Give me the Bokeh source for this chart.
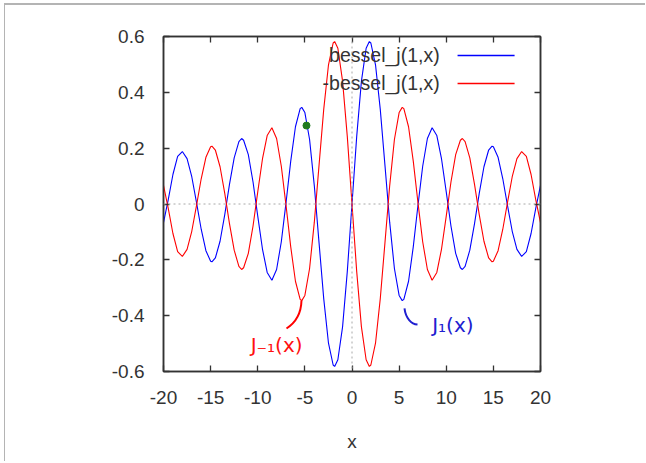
from bokeh.plotting import figure
from bokeh.models import FixedTicker, LinearAxis, Span
from bokeh.core.properties import value
from bokeh.embed import file_html
from bokeh.resources import INLINE

# ---- data ----
x_vals = [-20, -19.5, -19, -18.5, -18, -17.5, -17, -16.5, -16, -15.5, -15, -14.86,
          -14.5, -14, -13.5, -13, -12.5, -12, -11.71, -11.5, -11, -10.5, -10, -9.5,
          -9, -8.5, -8, -7.5, -7, -6.5, -6, -5.5, -5.33, -5, -4.5, -4, -3.5, -3,
          -2.5, -2, -1.84, -1.5, -1, -0.5,
          0, 0.5, 1, 1.5, 1.84, 2, 2.5, 3, 3.5, 4, 4.5, 5, 5.33, 5.5, 6, 6.5, 7,
          7.5, 8, 8.5, 9, 9.5, 10, 10.5, 11, 11.5, 11.71, 12, 12.5, 13, 13.5, 14,
          14.5, 14.86, 15, 15.5, 16, 16.5, 17, 17.5, 18, 18.5, 19, 19.5, 20]

bessel_j1 = [-0.0668, 0.0148, 0.1057, 0.1703, 0.1880, 0.1627, 0.0977, 0.0057, -0.0904,
             -0.1672, -0.2051, -0.2070, -0.1934, -0.1334, -0.0380, 0.0703, 0.1655,
             0.2234, 0.2346, 0.2284, 0.1768, 0.0789, -0.0435, -0.1613, -0.2453,
             -0.2731, -0.2346, -0.1352, 0.0047, 0.1538, 0.2767, 0.3414, 0.3461,
             0.3276, 0.2311, 0.0660, -0.1374, -0.3391, -0.4971, -0.5767, -0.5819,
             -0.5579, -0.4401, -0.2423,
             0.0, 0.2423, 0.4401, 0.5579, 0.5819, 0.5767, 0.4971, 0.3391, 0.1374,
             -0.0660, -0.2311, -0.3276, -0.3461, -0.3414, -0.2767, -0.1538, -0.0047,
             0.1352, 0.2346, 0.2731, 0.2453, 0.1613, 0.0435, -0.0789, -0.1768,
             -0.2284, -0.2346, -0.2234, -0.1655, -0.0703, 0.0380, 0.1334, 0.1934,
             0.2070, 0.2051, 0.1672, 0.0904, -0.0057, -0.0977, -0.1627, -0.1880,
             -0.1703, -0.1057, -0.0148, 0.0668]

neg_bessel_j1 = [0.0668, -0.0148, -0.1057, -0.1703, -0.1880, -0.1627, -0.0977, -0.0057,
                 0.0904, 0.1672, 0.2051, 0.2070, 0.1934, 0.1334, 0.0380, -0.0703,
                 -0.1655, -0.2234, -0.2346, -0.2284, -0.1768, -0.0789, 0.0435, 0.1613,
                 0.2453, 0.2731, 0.2346, 0.1352, -0.0047, -0.1538, -0.2767, -0.3414,
                 -0.3461, -0.3276, -0.2311, -0.0660, 0.1374, 0.3391, 0.4971, 0.5767,
                 0.5819, 0.5579, 0.4401, 0.2423,
                 0.0, -0.2423, -0.4401, -0.5579, -0.5819, -0.5767, -0.4971, -0.3391,
                 -0.1374, 0.0660, 0.2311, 0.3276, 0.3461, 0.3414, 0.2767, 0.1538,
                 0.0047, -0.1352, -0.2346, -0.2731, -0.2453, -0.1613, -0.0435, 0.0789,
                 0.1768, 0.2284, 0.2346, 0.2234, 0.1655, 0.0703, -0.0380, -0.1334,
                 -0.1934, -0.2070, -0.2051, -0.1672, -0.0904, 0.0057, 0.0977, 0.1627,
                 0.1880, 0.1703, 0.1057, 0.0148, -0.0668]

series_names = ["bessel_j(1,x)", "-bessel_j(1,x)"]
x_ticks = [-20, -15, -10, -5, 0, 5, 10, 15, 20]
x_tick_labels = ["-20", "-15", "-10", "-5", "0", "5", "10", "15", "20"]
y_ticks = [-0.6, -0.4, -0.2, 0, 0.2, 0.4, 0.6]
y_tick_labels = ["-0.6", "-0.4", "-0.2", "0", "0.2", "0.4", "0.6"]

FONT = "Liberation Sans"
TXT = "#333333"

p = figure(width=641, height=458, x_range=(-20, 20), y_range=(-0.6, 0.6),
           output_backend="svg", toolbar_location=None,
           min_border_left=158, min_border_right=106, min_border_top=31,
           min_border_bottom=92)
p.styles = {"margin-left": "4px", "margin-top": "3px",
            "border-left": "1px solid #b4b4b4", "border-top": "2px solid #b4b4b4"}
p.grid.visible = False
p.outline_line_color = TXT
p.outline_line_width = 1.5
p.background_fill_color = "white"
p.border_fill_color = "white"


def style_axis(ax, ticks, labels, show_labels):
    ax.ticker = FixedTicker(ticks=ticks)
    ax.major_label_overrides = {t: l for t, l in zip(ticks, labels)}
    ax.major_tick_in = 6
    ax.major_tick_out = 0
    ax.minor_tick_line_color = None
    ax.major_tick_line_color = TXT
    ax.major_tick_line_width = 1.3
    ax.axis_line_color = TXT
    ax.axis_line_width = 1.5
    ax.major_label_text_font = FONT
    ax.major_label_text_font_size = "19px"
    ax.major_label_text_color = TXT if show_labels else None


style_axis(p.xaxis[0], x_ticks, x_tick_labels, True)
style_axis(p.yaxis[0], y_ticks, y_tick_labels, True)
p.xaxis[0].major_label_standoff = 19
p.yaxis[0].major_label_standoff = 19
p.xaxis[0].axis_label = "x"
p.xaxis[0].axis_label_text_font = FONT
p.xaxis[0].axis_label_text_font_size = "19px"
p.xaxis[0].axis_label_text_font_style = "normal"
p.xaxis[0].axis_label_text_color = TXT
p.xaxis[0].axis_label_standoff = 24

top_ax = LinearAxis()
style_axis(top_ax, x_ticks, x_tick_labels, False)
p.add_layout(top_ax, "above")
right_ax = LinearAxis()
style_axis(right_ax, y_ticks, y_tick_labels, False)
p.add_layout(right_ax, "right")

# zero axes (dotted)
p.add_layout(Span(location=0, dimension="width", line_color="#a8a8a8",
                  line_dash="2 3", line_width=1))
p.add_layout(Span(location=0, dimension="height", line_color="#a8a8a8",
                  line_dash="2 3", line_width=1))

# curves
p.line(x_vals, bessel_j1, line_color="#0000ff", line_width=1.1)
p.line(x_vals, neg_bessel_j1, line_color="#ff0000", line_width=1.1)

# gnuplot style key (text then sample line)
p.text(x=[9.3, 9.3], y=[0.532, 0.432], text=series_names,
       text_font=value(FONT), text_font_size="19.5px", text_color=TXT,
       text_align="right", text_baseline="middle")
p.segment(x0=[11.2, 11.2], y0=[0.532, 0.432], x1=[17.25, 17.25], y1=[0.532, 0.432],
          line_color=["#0000ff", "#ff0000"], line_width=1.5)

# hand-drawn annotations
p.bezier(x0=[-5.36], y0=[-0.346], x1=[-6.95], y1=[-0.446],
         cx0=[-5.4], cy0=[-0.40], cx1=[-6.2], cy1=[-0.43],
         line_color="#ff0000", line_width=2)
p.text(x=[-8.0], y=[-0.505], text=["J\u208b\u2081(x)"], text_font=value("DejaVu Sans"),
       text_font_size="20px", text_color="#ff1010", text_align="center",
       text_baseline="middle")
p.bezier(x0=[5.57], y0=[-0.374], x1=[6.95], y1=[-0.432],
         cx0=[5.7], cy0=[-0.41], cx1=[6.3], cy1=[-0.43],
         line_color="#2020d0", line_width=2)
p.text(x=[10.7], y=[-0.435], text=["J\u2081(x)"], text_font=value("DejaVu Sans"),
       text_font_size="20px", text_color="#2020d0", text_align="center",
       text_baseline="middle")

# stray green mark
p.scatter(x=[-4.83], y=[0.281], size=7, color="#1f7a1f")

open("out.html", "w").write(file_html(p, INLINE))
